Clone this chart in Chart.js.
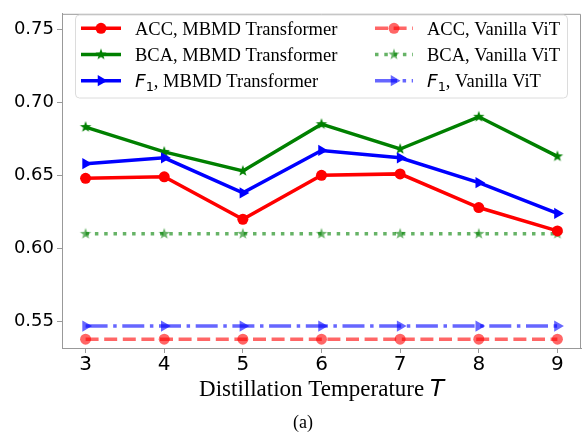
<!DOCTYPE html>
<html>
<head>
<meta charset="utf-8">
<script src="https://cdn.jsdelivr.net/npm/chart.js@4/dist/chart.umd.min.js"></script>
<style>
  html, body { margin: 0; padding: 0; background: #fff; }
</style>
</head>
<body>
<canvas id="grafico" width="588" height="435"></canvas>
<script>
// valores
const temperaturas = [3, 4, 5, 6, 7, 8, 9];
const accMbmd = [0.648, 0.649, 0.620, 0.650, 0.651, 0.628, 0.612];
const bcaMbmd = [0.683, 0.666, 0.653, 0.685, 0.668, 0.690, 0.663];
const f1Mbmd  = [0.658, 0.662, 0.638, 0.667, 0.662, 0.645, 0.624];
const accVit  = [0.538, 0.538, 0.538, 0.538, 0.538, 0.538, 0.538];
const bcaVit  = [0.610, 0.610, 0.610, 0.610, 0.610, 0.610, 0.610];
const f1Vit   = [0.547, 0.547, 0.547, 0.547, 0.547, 0.547, 0.547];
const ticksY  = [0.55, 0.60, 0.65, 0.70, 0.75];
const metricas = ['ACC', 'BCA', 'F1'];
const modelos = ['MBMD Transformer', 'Vanilla ViT'];

const LW = 3.5;
const SERIF = '"Liberation Serif", "Times New Roman", serif';
const SANS = '"DejaVu Sans", sans-serif';

function estrela(cor, r) {
  const s = Math.ceil(r * 2 + 2);
  const c = document.createElement('canvas');
  c.width = s; c.height = s;
  const g = c.getContext('2d');
  g.translate(s / 2, s / 2);
  g.beginPath();
  for (let i = 0; i < 10; i++) {
    const raio = i % 2 === 0 ? r : r * 0.4;
    const a = -Math.PI / 2 + i * Math.PI / 5;
    g.lineTo(Math.cos(a) * raio, Math.sin(a) * raio);
  }
  g.closePath();
  g.fillStyle = cor;
  g.fill();
  return c;
}

function pontos(valores) {
  return temperaturas.map((t, i) => ({ x: t, y: valores[i] }));
}

const vermelho = '#ff0000', verde = '#008000', azul = '#0000ff';
const vermelhoA = 'rgba(255,0,0,0.6)', verdeA = 'rgba(0,128,0,0.6)', azulA = 'rgba(0,0,255,0.6)';

const datasets = [
  { label: 'ACC', data: pontos(accMbmd), borderColor: vermelho, backgroundColor: vermelho,
    pointStyle: 'circle', pointRadius: 5.5, borderDash: [], order: 1 },
  { label: 'BCA', data: pontos(bcaMbmd), borderColor: verde, backgroundColor: verde,
    pointStyle: estrela(verde, 6), pointRadius: 6, borderDash: [], order: 3 },
  { label: 'F1', data: pontos(f1Mbmd), borderColor: azul, backgroundColor: azul,
    pointStyle: 'triangle', pointRotation: 90, pointRadius: 6.5, borderDash: [], order: 2 },
  { label: 'ACC', data: pontos(accVit), borderColor: vermelhoA, backgroundColor: vermelhoA,
    pointStyle: 'circle', pointRadius: 5.5, borderDash: [13, 5.6], order: 4 },
  { label: 'BCA', data: pontos(bcaVit), borderColor: verdeA, backgroundColor: verdeA,
    pointStyle: estrela(verdeA, 6), pointRadius: 6, borderDash: [3.5, 5.8], order: 5 },
  { label: 'F1', data: pontos(f1Vit), borderColor: azulA, backgroundColor: azulA,
    pointStyle: 'triangle', pointRotation: 90, pointRadius: 6.5, borderDash: [22, 5.6, 3.5, 5.6], order: 6 }
];
datasets.forEach(d => {
  d.borderWidth = LW;
  d.pointBorderWidth = 0;
  d.pointHoverRadius = d.pointRadius;
  d.tension = 0;
  d.fill = false;
  d.borderCapStyle = 'butt';
});

function textoMisto(ctx, x, y, metrica, resto, tam) {
  if (metrica === 'F1') {
    ctx.font = 'italic ' + tam + 'px ' + SANS;
    ctx.fillText('F', x, y);
    x += ctx.measureText('F').width;
    ctx.font = (tam * 0.7) + 'px ' + SANS;
    ctx.fillText('1', x, y + 4);
    x += ctx.measureText('1').width;
    ctx.font = tam + 'px ' + SERIF;
    ctx.fillText(resto, x, y);
  } else {
    ctx.font = tam + 'px ' + SERIF;
    ctx.fillText(metrica + resto, x, y);
  }
}

const moldura = {
  id: 'moldura',
  afterDraw(chart) {
    const ctx = chart.ctx;
    const a = chart.chartArea;
    ctx.save();
    // topo e direita da moldura
    ctx.strokeStyle = '#999';
    ctx.lineWidth = 1;
    ctx.beginPath();
    ctx.moveTo(a.left, a.top + 0.5);
    ctx.lineTo(a.right - 0.5, a.top + 0.5);
    ctx.lineTo(a.right - 0.5, a.bottom);
    ctx.stroke();

    // legenda
    const lx = 75.5, ly = 15, lw = 492, lh = 83;
    ctx.beginPath();
    ctx.roundRect(lx, ly, lw, lh, 4);
    ctx.fillStyle = 'rgba(255,255,255,0.8)';
    ctx.fill();
    ctx.strokeStyle = '#dcdcdc';
    ctx.stroke();

    const linhasY = [28.3, 54.5, 80.7];
    const colunas = [{ x0: 81, x1: 121, tx: 135 }, { x0: 375, x1: 413, tx: 427 }];
    datasets.forEach((d, i) => {
      const col = colunas[Math.floor(i / 3)];
      const y = linhasY[i % 3];
      ctx.save();
      ctx.strokeStyle = d.borderColor;
      ctx.lineWidth = LW;
      ctx.lineCap = 'butt';
      ctx.setLineDash(d.borderDash);
      ctx.beginPath();
      ctx.moveTo(col.x0, y);
      ctx.lineTo(col.x1, y);
      ctx.stroke();
      ctx.setLineDash([]);
      ctx.fillStyle = d.backgroundColor;
      Chart.helpers.drawPoint(ctx, {
        pointStyle: d.pointStyle, radius: d.pointRadius,
        rotation: d.pointRotation || 0, borderWidth: 0
      }, (col.x0 + col.x1) / 2, y);
      ctx.restore();
      ctx.fillStyle = '#000';
      ctx.textBaseline = 'alphabetic';
      ctx.textAlign = 'left';
      textoMisto(ctx, col.tx, y + 6.5, metricas[i % 3], ', ' + modelos[Math.floor(i / 3)], 18.5);
    });

    // titulo do eixo x
    ctx.fillStyle = '#000';
    ctx.textAlign = 'left';
    ctx.textBaseline = 'alphabetic';
    const parte1 = 'Distillation Temperature ';
    ctx.font = '23px ' + SERIF;
    const w1 = ctx.measureText(parte1).width;
    ctx.font = 'italic 23px ' + SANS;
    const w2 = ctx.measureText('T').width;
    let x = (a.left + a.right) / 2 - (w1 + w2) / 2;
    ctx.font = '23px ' + SERIF;
    ctx.fillText(parte1, x, 396);
    ctx.font = 'italic 23px ' + SANS;
    ctx.fillText('T', x + w1, 396);

    ctx.font = '18px ' + SERIF;
    ctx.textAlign = 'center';
    ctx.fillText('(a)', 303, 428);
    ctx.restore();
  }
};

new Chart(document.getElementById('grafico'), {
  type: 'line',
  data: { datasets },
  options: {
    responsive: false,
    devicePixelRatio: 1,
    animation: false,
    layout: { padding: { left: 0, right: 7, top: 4, bottom: 0 } },
    plugins: { legend: { display: false }, tooltip: { enabled: false } },
    scales: {
      x: {
        type: 'linear',
        min: 2.7,
        max: 9.3,
        afterBuildTicks: s => { s.ticks = temperaturas.map(v => ({ value: v })); },
        afterFit: s => { s.height = 87; },
        ticks: { font: { family: SANS, size: 20 }, color: '#000', padding: 0, maxRotation: 0,
          callback: v => String(v) },
        grid: { drawOnChartArea: false, drawTicks: true, tickLength: 5, color: '#999' },
        border: { color: '#999', width: 1 }
      },
      y: {
        type: 'linear',
        min: 0.532,
        max: 0.7604,
        afterBuildTicks: s => { s.ticks = ticksY.map(v => ({ value: v })); },
        afterFit: s => { s.width = 62; },
        ticks: { font: { family: SANS, size: 18 }, color: '#000', padding: 3,
          callback: v => v.toFixed(2) },
        grid: { drawOnChartArea: false, drawTicks: true, tickLength: 5, color: '#999' },
        border: { color: '#999', width: 1 }
      }
    }
  },
  plugins: [moldura]
});
</script>
</body>
</html>
